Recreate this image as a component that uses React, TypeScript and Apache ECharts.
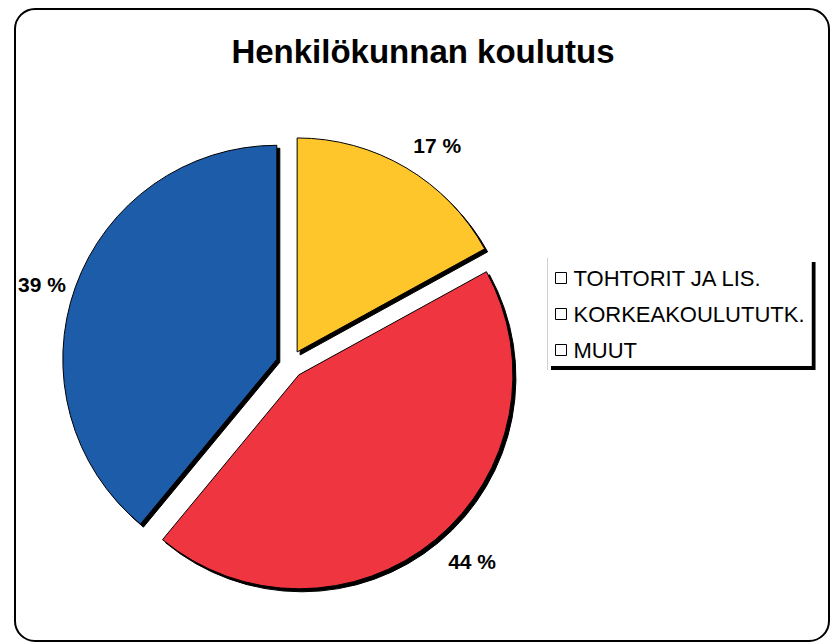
import React, { useEffect, useRef } from "react";
import * as echarts from "echarts";

const titleText = "Henkilökunnan koulutus";
const categories = ["TOHTORIT JA LIS.", "KORKEAKOULUTUTK.", "MUUT"];
const values = [17, 44, 39];
const sliceColors = ["#FEC62C", "#EE3640", "#1E5BA8"];
// label-line lengths (style only): radial / horizontal distance of each percentage label
const labelRadial = [26, 28, 8];
const labelHorizontal = [-11, -10, -3];

const FONT = "'Liberation Sans', Arial, sans-serif";

export default function App() {
  const ref = useRef<HTMLDivElement>(null);
  useEffect(() => {
    document.body.style.margin = "0";
    const chart = echarts.init(ref.current!, null, { renderer: "svg" });
    const itemStyleBase = {
      borderColor: "#000",
      borderWidth: 1,
      shadowColor: "#000",
      shadowBlur: 0,
      shadowOffsetX: 3,
      shadowOffsetY: 3,
    };
    chart.setOption({
      animation: false,
      backgroundColor: "#fff",
      title: {
        text: titleText,
        left: 423,
        textAlign: "center",
        top: 35,
        padding: 0,
        textStyle: { fontSize: 33, fontWeight: "bold", color: "#000", fontFamily: FONT },
      },
      legend: {
        orient: "vertical",
        left: 547,
        top: 258,
        padding: [9, 7, 5, 8],
        itemGap: 14,
        itemWidth: 11,
        itemHeight: 11,
        icon: "rect",
        backgroundColor: "#fff",
        shadowColor: "#000",
        shadowBlur: 0,
        shadowOffsetX: 4,
        shadowOffsetY: 4,
        itemStyle: { color: "#fff", borderColor: "#000", borderWidth: 1, shadowBlur: 0, shadowOffsetX: 0, shadowOffsetY: 0 },
        textStyle: { fontSize: 22, color: "#000", fontFamily: FONT, padding: [0, 0, 0, 2] },
        data: categories,
        selectedMode: false,
      },
      graphic: [
        {
          type: "rect",
          shape: { x: 15, y: 9, width: 814, height: 632, r: 20 },
          style: { fill: "none", stroke: "#000", lineWidth: 2 },
          silent: true,
        },
        {
          type: "line",
          shape: { x1: 547.5, y1: 258, x2: 547.5, y2: 370 },
          style: { stroke: "#d0d0d0", lineWidth: 1 },
          silent: true,
          z: 100,
        },
      ],
      series: [
        {
          type: "pie",
          center: [290, 364],
          radius: 214,
          startAngle: 90,
          clockwise: true,
          selectedMode: "multiple",
          selectedOffset: 14,
          avoidLabelOverlap: false,
          emphasis: { disabled: true },
          label: {
            show: true,
            position: "outside",
            formatter: "{c} %",
            color: "#000",
            fontSize: 21,
            fontWeight: "bold",
            fontFamily: FONT,
            distance: 0,
          },
          labelLine: { show: false, length: 20, length2: 0 },
          itemStyle: itemStyleBase,
          select: { itemStyle: itemStyleBase },
          data: categories.map((name, i) => ({
            name,
            value: values[i],
            selected: true,
            itemStyle: { color: sliceColors[i] },
            labelLine: { show: false, length: labelRadial[i], length2: labelHorizontal[i] },
          })),
        },
      ],
    });
    return () => chart.dispose();
  }, []);
  return <div ref={ref} style={{ width: 832, height: 643 }} />;
}
